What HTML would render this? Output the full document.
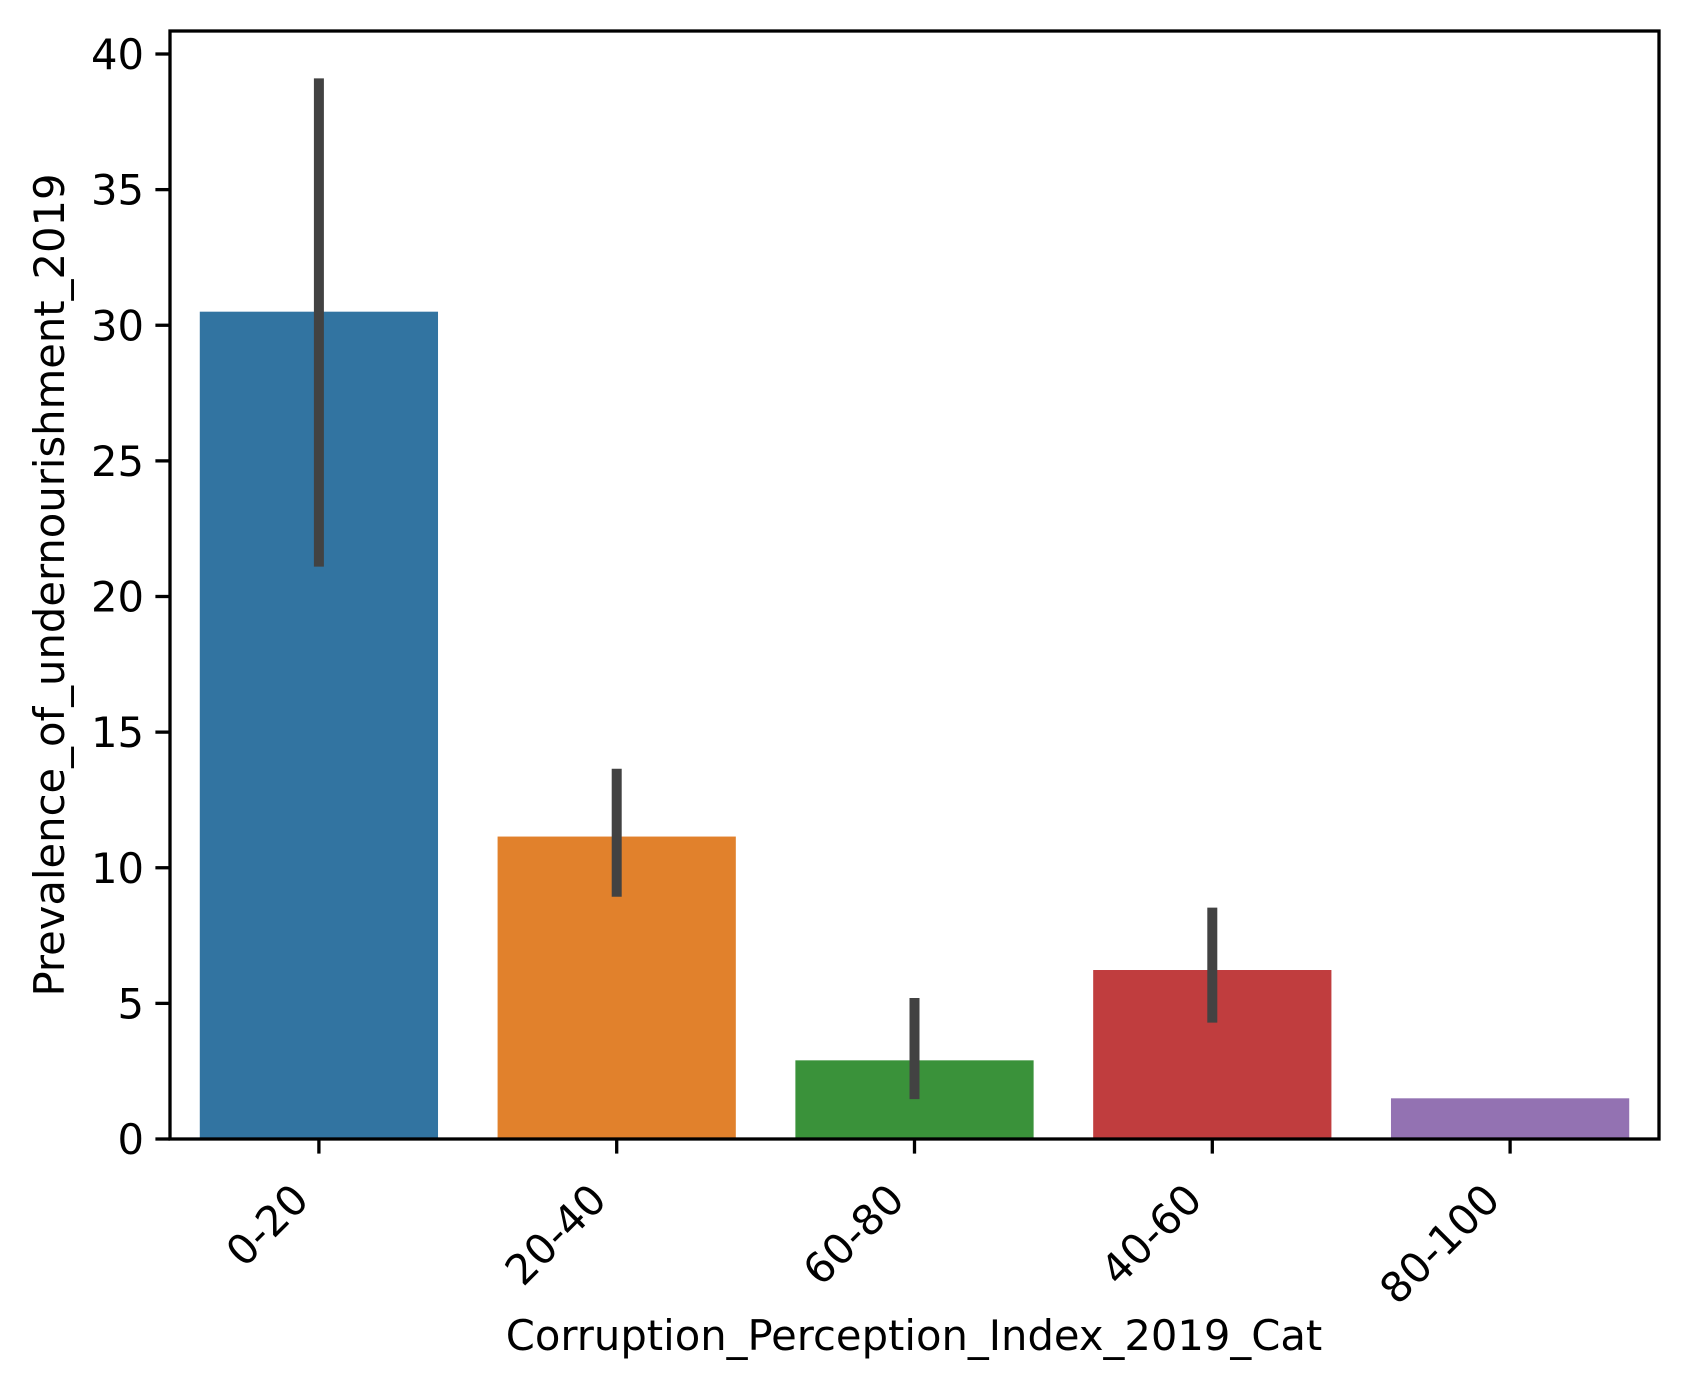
<!DOCTYPE html>
<html><head><meta charset="utf-8"><style>
html,body{margin:0;padding:0;background:#fff}
svg{display:block;font-family:"DejaVu Sans","Liberation Sans",sans-serif}
</style></head><body>
<svg id="chart" width="1687" height="1388" viewBox="0 0 1687 1388" xmlns="http://www.w3.org/2000/svg">
<rect width="1687" height="1388" fill="#fff"/>
<g id="bars"></g>
<g id="errs"></g>
<g id="yaxis"></g>
<g id="xaxis"></g>
<rect x="170" y="31" width="1489" height="1108" fill="none" stroke="#000" stroke-width="3.3"/>
<text x="64" y="585" font-size="41.7" text-anchor="middle" transform="rotate(-90 64 585)">Prevalence_of_undernourishment_2019</text>
<text x="914" y="1350" font-size="41.7" text-anchor="middle">Corruption_Perception_Index_2019_Cat</text>
</svg>
<script>
const categories = ["0-20","20-40","60-80","40-60","80-100"];
const values = [30.5, 11.15, 2.9, 6.23, 1.5];
const errLow = [21.1, 8.93, 1.47, 4.29, null];
const errHigh = [39.1, 13.65, 5.2, 8.53, null];
const yTicks = [0,5,10,15,20,25,30,35,40];
const colors = ["#3274a1","#e1812c","#3a923a","#c03d3e","#9372b2"];

const L=170,R=1659,T=31,B=1139;
const y0=1139, y40=54;
function yScale(v){return y0-(y0-y40)*v/40;}
const slot=(R-L)/categories.length;
function xCenter(i){return L+slot*(i+0.5);}
const NS="http://www.w3.org/2000/svg";
function mk(tag,attrs,parent){const e=document.createElementNS(NS,tag);for(const k in attrs)e.setAttribute(k,attrs[k]);parent.appendChild(e);return e;}
const gb=document.getElementById('bars'),ge=document.getElementById('errs'),gy=document.getElementById('yaxis'),gx=document.getElementById('xaxis');
const bw=slot*0.8;
categories.forEach((c,i)=>{
  const r=mk('rect',{x:xCenter(i)-bw/2,y:yScale(values[i]),width:bw,height:yScale(0)-yScale(values[i]),fill:colors[i]},gb);
  
  
  if(errLow[i]!==null){
    const l=mk('line',{x1:xCenter(i),x2:xCenter(i),y1:yScale(errLow[i]),y2:yScale(errHigh[i]),stroke:'#424242','stroke-width':10},ge);
    
    
  }
  const t=mk('line',{x1:xCenter(i),x2:xCenter(i),y1:B,y2:B+14.6,stroke:'#000','stroke-width':3.3},gx);
  
  
  const ox=xCenter(i)-8, oy=1202;
  const tx=mk('text',{x:ox,y:oy,'font-size':41.7,'text-anchor':'end',transform:`rotate(-45 ${ox} ${oy})`},gx);
  tx.textContent=c;
  
  
});
yTicks.forEach(v=>{
  const y=yScale(v);
  const t=mk('line',{x1:L-14.6,x2:L,y1:y,y2:y,stroke:'#000','stroke-width':3.3},gy);
  
  
  const tx=mk('text',{x:L-26,y:y+15,'font-size':41.7,'text-anchor':'end'},gy);
  tx.textContent=String(v);
  
  
});
</script>
</body></html>
